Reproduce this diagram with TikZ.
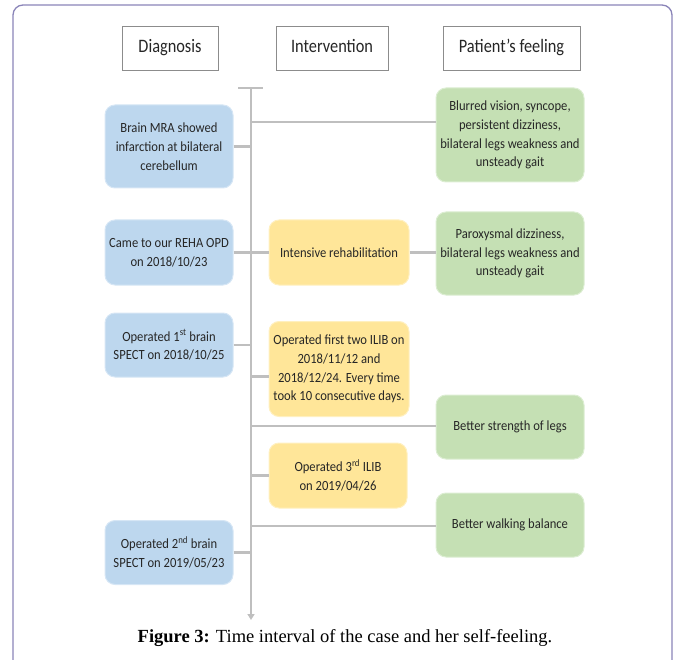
\documentclass[tikz,border=0pt]{standalone}
\usepackage{fontspec}
\setmainfont{Liberation Serif}
\newfontfamily\boxfont[FakeStretch=0.9]{Carlito}
\newfontfamily\headfont[FakeStretch=0.86]{Carlito}
\usetikzlibrary{arrows.meta}
\definecolor{bluefill}{HTML}{BDD7EE}
\definecolor{blueedge}{HTML}{D6E6F5}
\definecolor{yelfill}{HTML}{FFE699}
\definecolor{yeledge}{HTML}{FFF0C0}
\definecolor{grnfill}{HTML}{C5E0B4}
\definecolor{grnedge}{HTML}{DCEDD2}
\definecolor{linegray}{HTML}{BFBFBF}
\definecolor{framecol}{HTML}{8A84B8}
\tikzset{
  x=1pt, y=-1pt,
  base/.style={font=\boxfont\fontsize{14}{18.8}\selectfont, align=center, text=black!85, inner sep=2pt},
  header/.style={font=\headfont\fontsize{19}{22}\selectfont, text=black!85, draw=black!45, line width=0.8pt, fill=white, minimum height=44pt, inner sep=2pt, text height=13pt, text depth=4pt},
  diag/.style={base, draw=blueedge, line width=1pt, fill=bluefill, rounded corners=10pt, minimum width=128pt},
  interv/.style={base, draw=yeledge, line width=1pt, fill=yelfill, rounded corners=10pt, minimum width=140pt},
  feel/.style={base, draw=grnedge, line width=1pt, fill=grnfill, rounded corners=10pt, minimum width=148pt},
  conn/.style={draw=linegray, line width=2.6pt},
}
\begin{document}
\begin{tikzpicture}
\useasboundingbox (0,0) rectangle (679,660);
\draw[framecol, line width=1.3pt, rounded corners=10pt] (13,5) rectangle (672,700);

% headers
\node[header, minimum width=96pt] (hd) at (170,48) {Diagnosis};
\node[header, minimum width=112pt] (hi) at (332,48) {Intervention};
\node[header, minimum width=137pt] (hp) at (511.5,48) {Patient’s feeling};

% timeline
\coordinate (ttop) at (251,88);
\coordinate (tbot) at (251,620);
\coordinate (tl) at (238,88);
\coordinate (tr) at (263,88);
\draw[conn] (tl) -- (tr);
\draw[conn, -{Triangle[length=6pt,width=7pt]}] (ttop) -- (tbot);

% diagnosis
\node[diag, minimum height=83pt] (d1) at (169,146.5) {Brain MRA showed\\infarction at bilateral\\cerebellum};
\node[diag, minimum height=65pt] (d2) at (169,252.5) {Came to our REHA OPD\\on 2018/10/23};
\node[diag, minimum height=64pt] (d3) at (169,345) {Operated 1\textsuperscript{st} brain\\SPECT on 2018/10/25};
\node[diag, minimum height=64pt] (d4) at (169,552.5) {Operated 2\textsuperscript{nd} brain\\SPECT on 2019/05/23};

% intervention
\node[interv, minimum height=65pt] (i1) at (339,252.5) {Intensive rehabilitation};
\node[interv, minimum height=95pt] (i2) at (339,369) {Operated first two ILIB on\\2018/11/12 and\\2018/12/24. Every time\\took 10 consecutive days.};
\node[interv, minimum height=65pt, minimum width=138pt] (i3) at (338,475.5) {Operated 3\textsuperscript{rd} ILIB\\on 2019/04/26};

% feelings
\node[feel, minimum height=94pt] (g1) at (510,135) {Blurred vision, syncope,\\persistent dizziness,\\bilateral legs weakness and\\unsteady gait};
\node[feel, minimum height=83pt] (g2) at (510,253.5) {Paroxysmal dizziness,\\bilateral legs weakness and\\unsteady gait};
\node[feel, minimum height=64pt] (g3) at (510,427) {Better strength of legs};
\node[feel, minimum height=64pt] (g4) at (510,525) {Better walking balance};

% connectors
\coordinate (j1) at (251,122);
\coordinate (j3) at (251,426);
\coordinate (j4) at (251,526);
\coordinate (ji2) at (251,376.5);
\draw[conn] (d1.east) -- (d1.east -| ttop);
\draw[conn] (d2.east) -- (i1.west);
\draw[conn] (i1.east) -- (i1.east -| g2.west);
\draw[conn] (d3.east) -- (d3.east -| ttop);
\draw[conn] (d4.east) -- (d4.east -| ttop);
\draw[conn] (ji2) -- (ji2 -| i2.west);
\draw[conn] (i3.west -| ttop) -- (i3.west);
\draw[conn] (j1) -- (j1 -| g1.west);
\draw[conn] (j3) -- (j3 -| g3.west);
\draw[conn] (j4) -- (j4 -| g4.west);

% caption
\node[font=\fontsize{18.5}{22}\selectfont, inner sep=0pt] (cap) at (345,638) {\textbf{Figure 3:} Time interval of the case and her self-feeling.};
\end{tikzpicture}
\end{document}
